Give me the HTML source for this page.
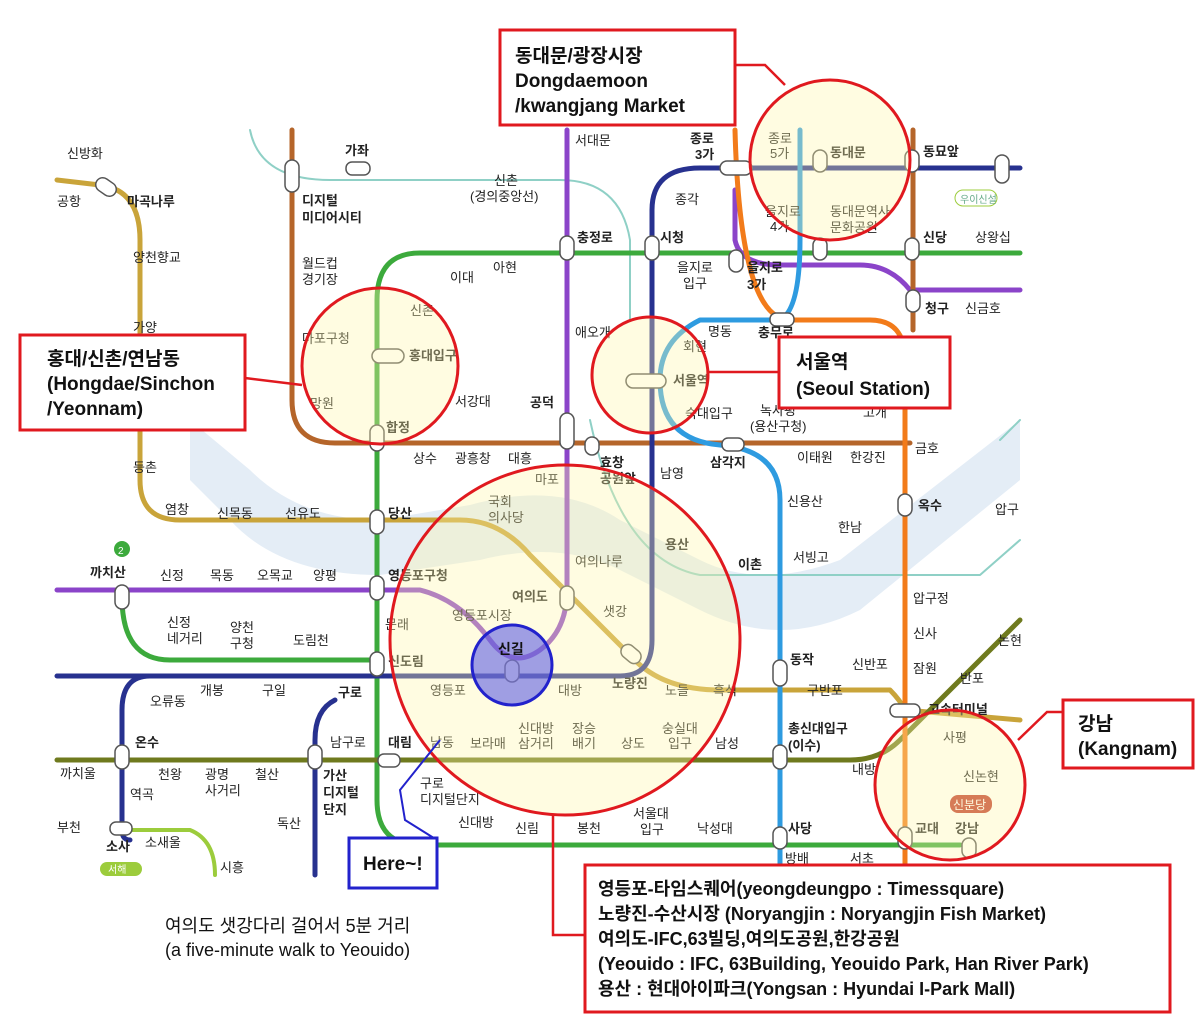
<!DOCTYPE html>
<html><head><meta charset="utf-8"><style>
html,body{margin:0;padding:0;background:#fff;}
svg text{font-family:"Liberation Sans","Noto Sans CJK KR",sans-serif;}
</style></head><body>
<svg width="1200" height="1017" viewBox="0 0 1200 1017" xmlns="http://www.w3.org/2000/svg">
<rect width="1200" height="1017" fill="#fff"/>
<path d="M190,420 L250,470 Q300,520 380,520 L470,505 Q560,480 620,520 L700,560 Q760,590 840,560 L1020,420 L1020,480 L860,610 Q780,650 700,610 L620,570 Q560,540 480,560 L380,575 Q280,575 230,520 L190,480 Z" fill="#e4edf6"/>
<g fill="none" stroke-linecap="round" stroke-linejoin="round">
<path d="M250,130 Q260,180 330,180 L560,180 Q620,180 630,240 L630,320" stroke="#8fd0c6" stroke-width="2"/>
<path d="M590,420 Q620,560 700,575 L980,575 L1020,540" stroke="#8fd0c6" stroke-width="2"/>
<path d="M57,180 L100,185 Q140,190 140,240 L140,480 Q140,520 180,520 L460,520 Q500,520 530,555 L630,655 Q660,690 720,690 L890,690 Q900,700 905,710 L1020,720" stroke="#c9a43a" stroke-width="5"/>
<path d="M292,130 L292,400 Q292,443 335,443 L910,443" stroke="#b5652a" stroke-width="5"/>
<path d="M1020,253 L420,253 Q377,253 377,300 L377,800 Q377,845 420,845 L960,845" stroke="#3caa3c" stroke-width="5"/>
<path d="M122,597 Q122,660 170,660 L377,660" stroke="#3caa3c" stroke-width="5"/>
<path d="M57,590 L420,590 Q460,600 490,640 Q512,670 540,650 Q567,630 567,590 L567,130" stroke="#8b44c9" stroke-width="5"/>
<path d="M735,190 L735,240 Q740,265 780,265 L860,265 Q890,265 910,290 L1020,290" stroke="#8b44c9" stroke-width="5"/>
<path d="M57,676 L620,676 Q652,676 652,640 L652,210 Q652,168 700,168 L1020,168" stroke="#27318f" stroke-width="5"/>
<path d="M150,676 Q122,676 122,710 L122,830 Q122,840 130,840" stroke="#27318f" stroke-width="5"/>
<path d="M335,700 Q315,710 315,740 L315,875" stroke="#27318f" stroke-width="5"/>
<path d="M57,760 L850,760 Q880,760 900,740 L1020,620" stroke="#6f7a1e" stroke-width="5"/>
<path d="M735,130 Q740,320 790,320 L870,320 Q905,320 905,360 L905,875" stroke="#f27b1a" stroke-width="5"/>
<path d="M800,130 L800,240 Q800,310 780,320 L700,320 Q660,340 660,380 Q660,440 720,445 Q780,450 780,500 L780,875" stroke="#2e9be0" stroke-width="5"/>
<path d="M913,130 L913,330" stroke="#b5652a" stroke-width="5"/>
<path d="M130,830 L190,830 Q215,840 215,875" stroke="#9ccc3c" stroke-width="4"/>
<path d="M1000,440 L1020,420" stroke="#8fd0c6" stroke-width="2"/>
</g>
<g fill="#fff" stroke="#555" stroke-width="1.5">
<rect x="285" y="160" width="14" height="32" rx="7"/>
<rect x="346" y="162" width="24" height="13" rx="6"/>
<rect x="95" y="180" width="22" height="14" rx="7" transform="rotate(35 106 187)"/>
<rect x="560" y="236" width="14" height="24" rx="7"/>
<rect x="645" y="236" width="14" height="24" rx="7"/>
<rect x="720" y="161" width="32" height="14" rx="7"/>
<rect x="813" y="150" width="14" height="22" rx="7"/>
<rect x="905" y="150" width="14" height="22" rx="7"/>
<rect x="995" y="155" width="14" height="28" rx="7"/>
<rect x="729" y="250" width="14" height="22" rx="7"/>
<rect x="813" y="238" width="14" height="22" rx="7"/>
<rect x="905" y="238" width="14" height="22" rx="7"/>
<rect x="906" y="290" width="14" height="22" rx="7"/>
<rect x="770" y="313" width="24" height="13" rx="6"/>
<rect x="372" y="349" width="32" height="14" rx="7"/>
<rect x="370" y="425" width="14" height="26" rx="7"/>
<rect x="626" y="374" width="40" height="14" rx="7"/>
<rect x="898" y="370" width="14" height="22" rx="7"/>
<rect x="560" y="413" width="14" height="36" rx="7"/>
<rect x="585" y="437" width="14" height="18" rx="7"/>
<rect x="722" y="438" width="22" height="13" rx="6"/>
<rect x="898" y="494" width="14" height="22" rx="7"/>
<rect x="370" y="510" width="14" height="24" rx="7"/>
<rect x="370" y="576" width="14" height="24" rx="7"/>
<rect x="560" y="586" width="14" height="24" rx="7"/>
<rect x="115" y="585" width="14" height="24" rx="7"/>
<rect x="370" y="652" width="14" height="24" rx="7"/>
<rect x="620" y="647" width="22" height="14" rx="7" transform="rotate(40 631 654)"/>
<rect x="773" y="660" width="14" height="26" rx="7"/>
<rect x="505" y="660" width="14" height="22" rx="7"/>
<rect x="890" y="704" width="30" height="13" rx="6"/>
<rect x="115" y="745" width="14" height="24" rx="7"/>
<rect x="308" y="745" width="14" height="24" rx="7"/>
<rect x="378" y="754" width="22" height="13" rx="6"/>
<rect x="773" y="745" width="14" height="24" rx="7"/>
<rect x="110" y="822" width="22" height="13" rx="6"/>
<rect x="773" y="827" width="14" height="22" rx="7"/>
<rect x="898" y="827" width="14" height="22" rx="7"/>
<rect x="962" y="838" width="14" height="20" rx="7"/>
</g>
<g font-size="13" fill="#222">
<text x="67" y="158">신방화</text><text x="57" y="206">공항</text><text x="127" y="206" font-weight="bold">마곡나루</text>
<text x="133" y="262">양천향교</text><text x="133" y="332">가양</text><text x="133" y="405">증미</text><text x="133" y="472">등촌</text>
<text x="165" y="514">염창</text><text x="217" y="518">신목동</text><text x="285" y="518">선유도</text>
<text x="345" y="155" font-weight="bold">가좌</text><text x="302" y="205" font-weight="bold">디지털</text><text x="302" y="222" font-weight="bold">미디어시티</text>
<text x="302" y="268">월드컵</text><text x="302" y="284">경기장</text><text x="302" y="343">마포구청</text><text x="310" y="408">망원</text>
<text x="494" y="185">신촌</text><text x="470" y="201">(경의중앙선)</text><text x="575" y="145">서대문</text>
<text x="690" y="143" font-weight="bold">종로</text><text x="695" y="159" font-weight="bold">3가</text><text x="675" y="204">종각</text>
<text x="768" y="143">종로</text><text x="770" y="158">5가</text><text x="830" y="157" font-weight="bold">동대문</text><text x="923" y="156" font-weight="bold">동묘앞</text>
<text x="577" y="242" font-weight="bold">충정로</text><text x="660" y="242" font-weight="bold">시청</text><text x="765" y="216">을지로</text><text x="770" y="231">4가</text>
<text x="830" y="216">동대문역사</text><text x="830" y="232">문화공원</text><text x="923" y="242" font-weight="bold">신당</text><text x="975" y="242">상왕십</text>
<text x="450" y="282">이대</text><text x="493" y="272">아현</text><text x="677" y="272">을지로</text><text x="683" y="288">입구</text>
<text x="747" y="272" font-weight="bold">을지로</text><text x="747" y="289" font-weight="bold">3가</text>
<text x="925" y="313" font-weight="bold">청구</text><text x="965" y="313">신금호</text>
<text x="410" y="315">신촌</text><text x="409" y="360" font-weight="bold">홍대입구</text><text x="575" y="337">애오개</text>
<text x="708" y="336">명동</text><text x="758" y="337" font-weight="bold">충무로</text><text x="683" y="351">회현</text>
<text x="673" y="385" font-weight="bold">서울역</text><text x="925" y="381" font-weight="bold">약수</text>
<text x="455" y="406">서강대</text><text x="530" y="407" font-weight="bold">공덕</text><text x="386" y="432" font-weight="bold">합정</text>
<text x="685" y="418">숙대입구</text><text x="760" y="415">녹사평</text><text x="750" y="431">(용산구청)</text><text x="863" y="417">고개</text>
<text x="915" y="453">금호</text><text x="413" y="463">상수</text><text x="455" y="463">광흥창</text><text x="508" y="463">대흥</text>
<text x="600" y="467" font-weight="bold">효창</text><text x="600" y="483" font-weight="bold">공원앞</text><text x="660" y="478">남영</text>
<text x="710" y="467" font-weight="bold">삼각지</text><text x="797" y="462">이태원</text><text x="850" y="462">한강진</text>
<text x="535" y="484">마포</text><text x="488" y="506">국회</text><text x="488" y="522">의사당</text><text x="388" y="518" font-weight="bold">당산</text>
<text x="787" y="506">신용산</text><text x="838" y="532">한남</text><text x="918" y="510" font-weight="bold">옥수</text><text x="995" y="514">압구</text>
<text x="665" y="549" font-weight="bold">용산</text><text x="738" y="569" font-weight="bold">이촌</text><text x="793" y="562">서빙고</text>
<text x="575" y="566">여의나루</text><text x="90" y="577" font-weight="bold">까치산</text><text x="160" y="580">신정</text><text x="210" y="580">목동</text>
<text x="257" y="580">오목교</text><text x="313" y="580">양평</text><text x="388" y="580" font-weight="bold">영등포구청</text>
<text x="512" y="601" font-weight="bold">여의도</text><text x="452" y="620">영등포시장</text><text x="603" y="616">샛강</text><text x="913" y="603">압구정</text>
<text x="167" y="627">신정</text><text x="167" y="643">네거리</text><text x="230" y="632">양천</text><text x="230" y="648">구청</text><text x="293" y="645">도림천</text>
<text x="385" y="629">문래</text><text x="913" y="638">신사</text><text x="998" y="645">논현</text>
<text x="388" y="666" font-weight="bold">신도림</text><text x="612" y="688" font-weight="bold">노량진</text>
<text x="790" y="664" font-weight="bold">동작</text><text x="852" y="669">신반포</text><text x="913" y="673">잠원</text><text x="960" y="683">반포</text>
<text x="200" y="695">개봉</text><text x="262" y="695">구일</text><text x="338" y="697" font-weight="bold">구로</text><text x="150" y="706">오류동</text>
<text x="430" y="695">영등포</text><text x="558" y="695">대방</text><text x="665" y="695">노들</text><text x="713" y="695">흑석</text><text x="807" y="695">구반포</text>
<text x="928" y="714" font-weight="bold">고속터미널</text><text x="518" y="733">신대방</text><text x="572" y="733">장승</text><text x="662" y="733">숭실대</text>
<text x="788" y="733" font-weight="bold">총신대입구</text><text x="788" y="750" font-weight="bold">(이수)</text><text x="943" y="742">사평</text>
<text x="135" y="747" font-weight="bold">온수</text><text x="330" y="747">남구로</text><text x="388" y="747" font-weight="bold">대림</text><text x="430" y="747">남동</text>
<text x="470" y="748">보라매</text><text x="518" y="748">삼거리</text><text x="572" y="748">배기</text><text x="621" y="748">상도</text><text x="668" y="748">입구</text><text x="715" y="748">남성</text>
<text x="60" y="778">까치울</text><text x="158" y="779">천왕</text><text x="205" y="779">광명</text><text x="205" y="795">사거리</text><text x="255" y="779">철산</text>
<text x="323" y="780" font-weight="bold">가산</text><text x="323" y="797" font-weight="bold">디지털</text><text x="323" y="814" font-weight="bold">단지</text>
<text x="420" y="788">구로</text><text x="420" y="804">디지털단지</text><text x="852" y="774">내방</text><text x="963" y="781">신논현</text>
<text x="130" y="799">역곡</text><text x="57" y="832">부천</text><text x="277" y="828">독산</text><text x="458" y="827">신대방</text><text x="515" y="833">신림</text>
<text x="577" y="833">봉천</text><text x="633" y="818">서울대</text><text x="640" y="834">입구</text><text x="697" y="833">낙성대</text><text x="788" y="833" font-weight="bold">사당</text>
<text x="915" y="833" font-weight="bold">교대</text><text x="955" y="833" font-weight="bold">강남</text>
<text x="106" y="851" font-weight="bold">소사</text><text x="145" y="847">소새울</text><text x="220" y="872">시흥</text><text x="785" y="863">방배</text><text x="850" y="863">서초</text>
</g>
<rect x="950" y="795" width="42" height="18" rx="8" fill="#c0392b"/><text x="953" y="809" font-size="12" fill="#fff">신분당</text>
<rect x="955" y="190" width="42" height="16" rx="8" fill="none" stroke="#9ccc3c"/><text x="960" y="203" font-size="10" fill="#6a8">우이신설</text>
<circle cx="122" cy="549" r="8" fill="#3caa3c"/><text x="118" y="554" font-size="10" fill="#fff">2</text>
<rect x="100" y="862" width="42" height="14" rx="7" fill="#9ccc3c"/><text x="108" y="873" font-size="10" fill="#fff">서해</text>
<g fill="rgba(255,245,170,0.35)" stroke="#e0191f" stroke-width="3">
<circle cx="830" cy="160" r="80"/>
<circle cx="380" cy="366" r="78"/>
<circle cx="650" cy="375" r="58"/>
<circle cx="565" cy="640" r="175"/>
<circle cx="950" cy="785" r="75"/>
</g>
<circle cx="512" cy="665" r="40" fill="rgba(80,80,230,0.55)" stroke="#2222cc" stroke-width="3"/>
<text x="498" y="654" font-size="14" font-weight="bold" fill="#111">신길</text>
<g stroke="#e0191f" stroke-width="2.5" fill="none">
<path d="M735,65 L765,65 L785,85"/>
<path d="M245,378 L302,385"/>
<path d="M708,372 L779,372"/>
<path d="M553,815 L553,935 L585,935"/>
<path d="M1063,712 L1047,712 L1018,740"/>
</g>
<path d="M437,840 L405,820 L400,790 L440,740" stroke="#2222cc" stroke-width="2" fill="none"/>
<g fill="#fff" stroke="#e0191f" stroke-width="3">
<rect x="500" y="30" width="235" height="95"/>
<rect x="20" y="335" width="225" height="95"/>
<rect x="779" y="337" width="171" height="71"/>
<rect x="1063" y="700" width="130" height="68"/>
<rect x="585" y="865" width="585" height="147"/>
</g>
<rect x="349" y="838" width="88" height="50" fill="#fff" stroke="#2222cc" stroke-width="3"/>
<g font-size="19" font-weight="bold" fill="#111">
<text x="515" y="62">동대문/광장시장</text>
<text x="515" y="87">Dongdaemoon</text>
<text x="515" y="112">/kwangjang Market</text>
<text x="47" y="365">홍대/신촌/연남동</text>
<text x="47" y="390">(Hongdae/Sinchon</text>
<text x="47" y="415">/Yeonnam)</text>
<text x="796" y="368">서울역</text>
<text x="796" y="395">(Seoul Station)</text>
<text x="1078" y="730">강남</text>
<text x="1078" y="755">(Kangnam)</text>
<text x="363" y="870">Here~!</text>
</g>
<g font-size="18" font-weight="bold" fill="#111">
<text x="598" y="895">영등포-타임스퀘어(yeongdeungpo : Timessquare)</text>
<text x="598" y="920">노량진-수산시장 (Noryangjin : Noryangjin Fish Market)</text>
<text x="598" y="945">여의도-IFC,63빌딩,여의도공원,한강공원</text>
<text x="598" y="970">(Yeouido : IFC, 63Building, Yeouido Park, Han River Park)</text>
<text x="598" y="995">용산 : 현대아이파크(Yongsan : Hyundai I-Park Mall)</text>
</g>
<g font-size="18" fill="#111">
<text x="165" y="932">여의도 샛강다리 걸어서 5분 거리</text>
<text x="165" y="956">(a five-minute walk to Yeouido)</text>
</g>
</svg>
</body></html>
